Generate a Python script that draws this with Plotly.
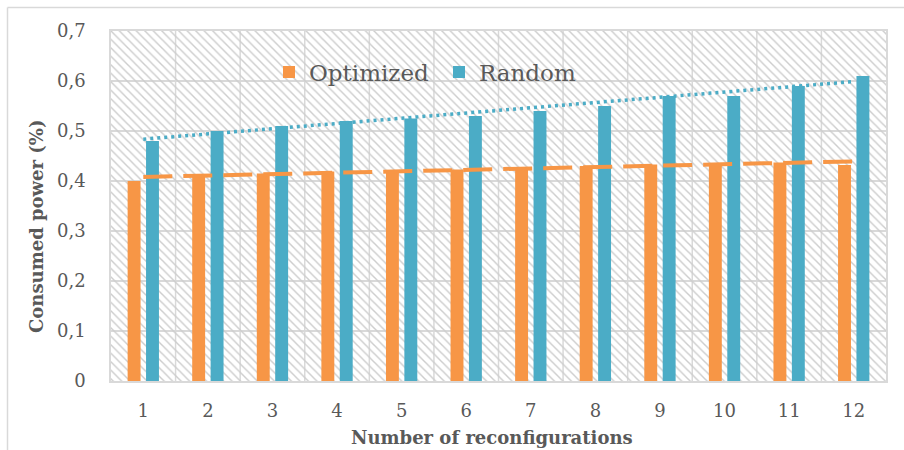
import numpy as np
import plotly.graph_objects as go

# Number of reconfigurations (x categories)
reconfigurations = [1, 2, 3, 4, 5, 6, 7, 8, 9, 10, 11, 12]
# Consumed power (%) per strategy
optimized = [0.400, 0.412, 0.415, 0.419, 0.422, 0.423, 0.428, 0.430, 0.433, 0.434, 0.437, 0.432]
random_cfg = [0.48, 0.50, 0.51, 0.52, 0.525, 0.53, 0.54, 0.55, 0.57, 0.57, 0.59, 0.61]
# Y axis ticks
y_ticks = [0, 0.1, 0.2, 0.3, 0.4, 0.5, 0.6, 0.7]
y_tick_labels = ["0", "0,1", "0,2", "0,3", "0,4", "0,5", "0,6", "0,7"]

ORANGE = "#F79646"
BLUE = "#4BACC6"
GRID = "#D9D9D9"
TEXT = "#595959"
FONT = "DejaVu Serif"

W, H = 904, 450
L, R, T, B = 111, 18, 31, 69
pw, ph = W - L - R, H - T - B


def px_x(p):
    return (p - L) / pw


def px_y(p):
    return (H - B - p) / ph


x = np.array(reconfigurations, dtype=float)
x_lo, x_hi = x[0] - 0.5, x[-1] + 0.5
y_top = y_ticks[-1]

fig = go.Figure()

# hatched plot-area background
fig.add_trace(go.Bar(
    x=[(x_lo + x_hi) / 2], y=[y_top], width=[x_hi - x_lo], base=0,
    marker=dict(color="#CDCDCD", line_width=0,
                pattern=dict(shape="\\", size=6, solidity=0.24, fillmode="replace")),
    showlegend=False, hoverinfo="skip",
))

bar_w = 0.2
fig.add_trace(go.Bar(
    x=x, y=optimized, name="Optimized", width=bar_w, offset=-0.2425,
    marker=dict(color=ORANGE, line_width=0),
))
fig.add_trace(go.Bar(
    x=x, y=random_cfg, name="Random", width=bar_w, offset=0.0425,
    marker=dict(color=BLUE, line_width=0),
))

# linear trend lines
for vals, color, dash, lw in [
    (optimized, ORANGE, "29px,11px", 4),
    (random_cfg, BLUE, "3px,4px", 3.5),
]:
    k, b = np.polyfit(x, vals, 1)
    fig.add_trace(go.Scatter(
        x=[x[0], x[-1]], y=[k * x[0] + b, k * x[-1] + b], mode="lines",
        line=dict(color=color, width=lw, dash=dash),
        showlegend=False, hoverinfo="skip",
    ))

fig.update_layout(
    width=W, height=H,
    margin=dict(l=L, r=R, t=T, b=B, pad=0),
    paper_bgcolor="white", plot_bgcolor="white",
    barmode="overlay",
    font=dict(family=FONT, color=TEXT, size=18),
    showlegend=True,
    legend=dict(
        orientation="h", x=px_x(269), xanchor="left", y=px_y(72), yanchor="middle",
        bgcolor="rgba(0,0,0,0)", font=dict(size=23, color=TEXT, family=FONT),
        entrywidth=125, entrywidthmode="pixels", traceorder="normal",
    ),
    xaxis=dict(
        range=[x_lo, x_hi], tickmode="array",
        tickvals=list(x), ticktext=[str(v) for v in reconfigurations],
        showgrid=False, zeroline=False,
        showline=True, mirror=True, linecolor=GRID, linewidth=1.5,
        ticks="", ticklabelstandoff=13,
        tickfont=dict(size=18, color=TEXT, family=FONT),
    ),
    yaxis=dict(
        range=[0, y_top], tickmode="array", tickvals=y_ticks, ticktext=y_tick_labels,
        showgrid=True, gridcolor=GRID, gridwidth=1.5, zeroline=False,
        showline=True, mirror=True, linecolor=GRID, linewidth=1.5,
        ticks="", ticklabelstandoff=20,
        tickfont=dict(size=18, color=TEXT, family=FONT),
    ),
)

# vertical grid lines at category boundaries
for xb in np.arange(x_lo + 1, x_hi, 1.0):
    fig.add_shape(type="line", xref="x", yref="paper", x0=xb, x1=xb, y0=0, y1=1,
                  line=dict(color=GRID, width=1.5), layer="below")

# axis titles
fig.add_annotation(text="<b>Number of reconfigurations</b>", xref="paper", yref="paper",
                   x=px_x(492), y=px_y(437), xanchor="center", yanchor="middle",
                   showarrow=False, font=dict(size=18, color=TEXT, family=FONT))
fig.add_annotation(text="<b>Consumed power (%)</b>", xref="paper", yref="paper",
                   x=px_x(36), y=px_y(227), xanchor="center", yanchor="middle",
                   showarrow=False, textangle=-90,
                   font=dict(size=18, color=TEXT, family=FONT))

# chart frame (top and left edges)
fig.add_shape(type="line", xref="paper", yref="paper",
              x0=px_x(7.5), x1=px_x(W + 5), y0=px_y(7.5), y1=px_y(7.5),
              line=dict(color=GRID, width=1.5))
fig.add_shape(type="line", xref="paper", yref="paper",
              x0=px_x(7.5), x1=px_x(7.5), y0=px_y(7.5), y1=px_y(H + 5),
              line=dict(color=GRID, width=1.5))

fig.write_html("out.html")
